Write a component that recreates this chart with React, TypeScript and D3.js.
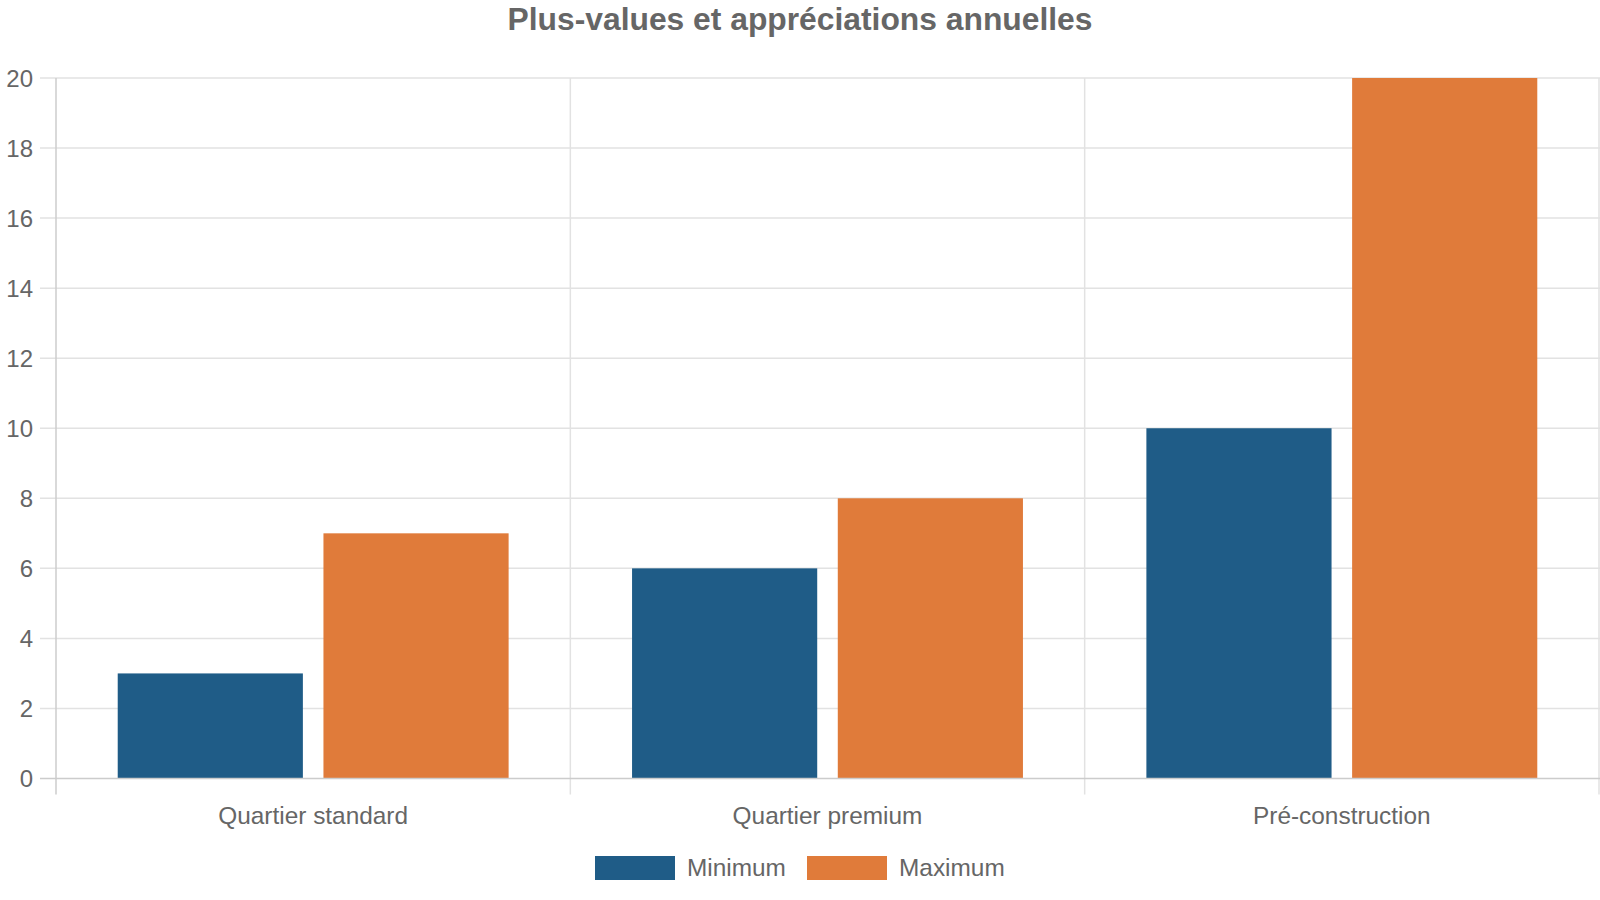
import React from "react";
import * as d3 from "d3";

const categories = ["Quartier standard", "Quartier premium", "Pré-construction"];
const seriesNames = ["Minimum", "Maximum"];
const minimumValues = [3, 6, 10];
const maximumValues = [7, 8, 20];
const yTicks = [0, 2, 4, 6, 8, 10, 12, 14, 16, 18, 20];
const colors = ["#1f5c87", "#e07b3a"];
const title = "Plus-values et appréciations annuelles";

const W = 1600;
const H = 900;
const left = 56;
const right = 1599;
const top = 78;
const bottom = 778.5;
const FONT = "'Liberation Sans', Arial, sans-serif";
const TEXT = "#666666";

export default function App() {
  const x = d3.scaleBand<string>().domain(categories).range([left, right]).padding(0);
  const bw = x.bandwidth();
  const xs = d3
    .scaleBand<string>()
    .domain(seriesNames)
    .range([bw * 0.1, bw * 0.9])
    .paddingInner(0.1)
    .paddingOuter(0.05);
  const y = d3.scaleLinear().domain([0, 20]).range([bottom, top]);
  const values = [minimumValues, maximumValues];
  const edges = [...categories.map((c) => x(c) as number), right];

  const legendItems = [
    { name: seriesNames[0], color: colors[0], x: 595 },
    { name: seriesNames[1], color: colors[1], x: 807 },
  ];

  return (
    <div style={{ position: "fixed", left: 0, top: 0 }}>
      <svg width={W} height={H} style={{ display: "block", background: "#fff" }}>
        <text
          x={W / 2}
          y={19}
          textAnchor="middle"
          dominantBaseline="central"
          fontFamily={FONT}
          fontWeight="bold"
          fontSize={31.8}
          fill={TEXT}
        >
          {title}
        </text>
        {/* horizontal grid */}
        {yTicks.map((t) => (
          <g key={"y" + t}>
            {t !== 0 && (
              <line
                x1={left - 16}
                x2={W}
                y1={y(t)}
                y2={y(t)}
                stroke="#e2e2e2"
                strokeWidth={1.5}
              />
            )}
            <text
              x={33}
              y={y(t)}
              textAnchor="end"
              dominantBaseline="central"
              fontFamily={FONT}
              fontSize={24}
              fill={TEXT}
            >
              {t}
            </text>
          </g>
        ))}
        {/* vertical grid */}
        {edges.map((e, i) => (
          <line
            key={"v" + i}
            x1={e}
            x2={e}
            y1={top}
            y2={bottom + 16}
            stroke={i === 0 ? "#cccccc" : "#e2e2e2"}
            strokeWidth={1.5}
          />
        ))}
        {/* bars */}
        {categories.map((c, ci) =>
          seriesNames.map((s, si) => {
            const v = values[si][ci];
            const bx = (x(c) as number) + (xs(s) as number);
            return (
              <rect
                key={c + s}
                x={bx}
                y={y(v)}
                width={xs.bandwidth()}
                height={y(0) - y(v)}
                fill={colors[si]}
              />
            );
          })
        )}
        {/* x axis line */}
        <line x1={left - 16} x2={W} y1={y(0)} y2={y(0)} stroke="#cccccc" strokeWidth={1.5} />
        {categories.map((c) => (
          <text
            key={"xl" + c}
            x={(x(c) as number) + bw / 2}
            y={815}
            textAnchor="middle"
            dominantBaseline="central"
            fontFamily={FONT}
            fontSize={24.4}
            fill={TEXT}
          >
            {c}
          </text>
        ))}
        {/* legend */}
        {legendItems.map((it) => (
          <g key={"lg" + it.name}>
            <rect x={it.x} y={856} width={80} height={24} fill={it.color} />
            <text
              x={it.x + 92}
              y={867}
              dominantBaseline="central"
              fontFamily={FONT}
              fontSize={24.4}
              fill={TEXT}
            >
              {it.name}
            </text>
          </g>
        ))}
      </svg>
    </div>
  );
}
